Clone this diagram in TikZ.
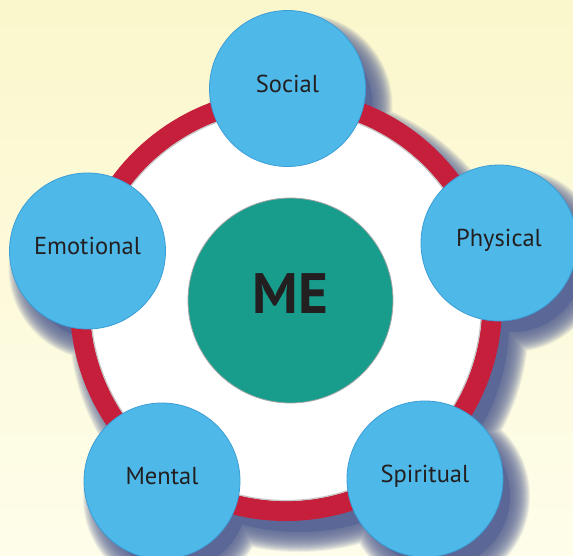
\documentclass[tikz,border=0pt]{standalone}
\usepackage{fontspec}
\setmainfont{PT Sans}
\usepackage{xcolor}
\definecolor{bgtop}{HTML}{FBF7CC}
\definecolor{bgbot}{HTML}{FEFDEA}
\definecolor{ringred}{HTML}{C51F3B}
\definecolor{areablue}{HTML}{4EB9E9}
\definecolor{areaedge}{HTML}{3B9DD6}
\definecolor{meteal}{HTML}{189D8C}
\definecolor{shadowblue}{HTML}{5B6796}
\definecolor{labeltext}{HTML}{231F20}

\begin{document}
\begin{tikzpicture}[x=1pt,y=-1pt,
  area/.style={circle,draw=areaedge,line width=0.8pt,fill=areablue,minimum size=156pt,inner sep=0pt,
    text=labeltext,font=\fontsize{24.5}{28}\selectfont,text height=18pt,text depth=11pt},
  centre/.style={circle,draw=gray!70,line width=0.8pt,fill=meteal,minimum size=205pt,inner sep=0pt,
    text=labeltext,font=\fontsize{57}{60}\selectfont\bfseries,text height=40pt,text depth=15pt},
  band/.style={circle,draw=ringred,line width=20pt,fill=white,minimum size=412pt,inner sep=0pt}]
	 \useasboundingbox (0,0) rectangle (573,555);
	 \shade[top color=bgtop,bottom color=bgbot] (0,0) rectangle (573,555);

	 \fill[shadowblue,shift={(13,17)}] (286,305) circle (210pt) (287.5,88.5) circle (72pt)
	   (499,243) circle (72pt) (87.5,251) circle (72pt) (425,479) circle (72pt) (162,481) circle (72pt);
	 \foreach \k in {-5,...,14} {
	   \pgfmathsetmacro\ro{216+\k}
	   \pgfmathsetmacro\rs{78+\k}
	   \fill[shadowblue,opacity=0.1,shift={(13,17)}] (286,305) circle (\ro pt) (287.5,88.5) circle (\rs pt)
	     (499,243) circle (\rs pt) (87.5,251) circle (\rs pt) (425,479) circle (\rs pt) (162,481) circle (\rs pt);
	 }

	 \node at (286,305) [band] (ring) {};
	 \draw[gray!45,line width=1.2pt] (ring.center) circle (195.5pt);

	 \node at (290.5,300.5) [centre] (me) {ME};
	 \node at (287.5,88.5) [area] (social) {Social};
	 \node at (499,243) [area] (physical) {Physical};
	 \node at (425,479) [area] (spiritual) {Spiritual};
	 \node at (162,481) [area] (mental) {Mental};
	 \node at (87.5,251) [area] (emotional) {Emotional};

\end{tikzpicture}
\end{document}
